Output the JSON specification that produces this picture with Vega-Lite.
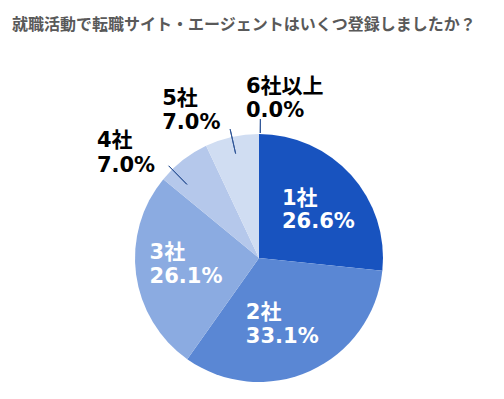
{
  "$schema": "https://vega.github.io/schema/vega-lite/v6.json",
  "width": 490,
  "height": 278,
  "autosize": {"type": "none"},
  "padding": {"left": 14, "top": 119, "right": 0, "bottom": 2},
  "background": "white",
  "title": {
    "text": "就職活動で転職サイト・エージェントはいくつ登録しましたか？",
    "anchor": "start",
    "frame": "group",
    "font": "Noto Sans CJK JP",
    "fontSize": 16,
    "fontWeight": "bold",
    "color": "#595959",
    "baseline": "alphabetic",
    "offset": 30,
    "dx": -2
  },
  "config": {"view": {"stroke": null}},
  "data": {
    "values": [
      {"name": "1社", "pct": 26.6, "order": 1},
      {"name": "2社", "pct": 33.1, "order": 2},
      {"name": "3社", "pct": 26.1, "order": 3},
      {"name": "4社", "pct": 7.0, "order": 4},
      {"name": "5社", "pct": 7.0, "order": 5},
      {"name": "6社以上", "pct": 0.0, "order": 6}
    ]
  },
  "transform": [
    {"joinaggregate": [{"op": "sum", "field": "pct", "as": "total"}]},
    {"window": [{"op": "sum", "field": "pct", "as": "cum"}], "sort": [{"field": "order", "order": "ascending"}], "frame": [null, 0]},
    {"calculate": "(datum.cum - datum.pct) / datum.total", "as": "start"},
    {"calculate": "datum.cum / datum.total", "as": "end"},
    {"calculate": "(datum.start + datum.end) / 2", "as": "mid"},
    {"calculate": "datum.name + '\\n' + format(datum.pct, '.1f') + '%'", "as": "label"}
  ],
  "layer": [
    {
      "mark": {"type": "arc", "outerRadius": 124},
      "encoding": {
        "theta": {"field": "start", "type": "quantitative", "scale": {"domain": [0, 1]}},
        "theta2": {"field": "end"},
        "color": {
          "field": "name", "type": "nominal", "legend": null,
          "scale": {"domain": ["1社", "2社", "3社", "4社", "5社", "6社以上"],
                    "range": ["#1853bf", "#5a87d4", "#8babe1", "#b5c8eb", "#d0ddf2", "#e6edf8"]}
        }
      }
    },
    {
      "transform": [{"filter": "datum.name == '4社'"}],
      "mark": {"type": "arc", "filled": false, "stroke": "#2f5597", "strokeWidth": 1, "radius": 129, "radius2": 103, "thetaOffset": -0.114, "theta2Offset": -0.114},
      "encoding": {"theta": {"field": "mid", "type": "quantitative", "scale": {"domain": [0, 1]}}, "theta2": {"field": "mid"}}
    },
    {
      "transform": [{"filter": "datum.name == '5社'"}],
      "mark": {"type": "arc", "filled": false, "stroke": "#2f5597", "strokeWidth": 1, "radius": 132, "radius2": 107},
      "encoding": {"theta": {"field": "mid", "type": "quantitative", "scale": {"domain": [0, 1]}}, "theta2": {"field": "mid"}}
    },
    {
      "transform": [{"filter": "datum.name == '6社以上'"}],
      "mark": {"type": "arc", "filled": false, "stroke": "#2f5597", "strokeWidth": 1, "radius": 139, "radius2": 125, "thetaOffset": 0.01, "theta2Offset": 0.01},
      "encoding": {"theta": {"field": "mid", "type": "quantitative", "scale": {"domain": [0, 1]}}, "theta2": {"field": "mid"}}
    },
    {
      "transform": [{"filter": "datum.name == '1社'"}],
      "mark": {"type": "text", "radius": 70, "align": "left", "baseline": "middle", "dx": -29, "dy": -12, "lineBreak": "\n", "lineHeight": 23, "font": "DejaVu Sans, Noto Sans CJK JP", "fontSize": 21, "fontWeight": "bold", "color": "white"},
      "encoding": {"theta": {"field": "mid", "type": "quantitative", "scale": {"domain": [0, 1]}}, "text": {"field": "label"}}
    },
    {
      "transform": [{"filter": "datum.name == '2社'"}],
      "mark": {"type": "text", "radius": 70, "align": "left", "baseline": "middle", "dx": -42, "dy": -9, "lineBreak": "\n", "lineHeight": 24, "font": "DejaVu Sans, Noto Sans CJK JP", "fontSize": 21, "fontWeight": "bold", "color": "white"},
      "encoding": {"theta": {"field": "mid", "type": "quantitative", "scale": {"domain": [0, 1]}}, "text": {"field": "label"}}
    },
    {
      "transform": [{"filter": "datum.name == '3社'"}],
      "mark": {"type": "text", "radius": 70, "align": "left", "baseline": "middle", "dx": -40, "dy": -14, "lineBreak": "\n", "lineHeight": 24, "font": "DejaVu Sans, Noto Sans CJK JP", "fontSize": 21, "fontWeight": "bold", "color": "white"},
      "encoding": {"theta": {"field": "mid", "type": "quantitative", "scale": {"domain": [0, 1]}}, "text": {"field": "label"}}
    },
    {
      "transform": [{"filter": "datum.name == '4社'"}],
      "mark": {"type": "text", "radius": 150, "align": "left", "baseline": "middle", "dx": -70, "dy": 1, "lineBreak": "\n", "lineHeight": 25, "font": "DejaVu Sans, Noto Sans CJK JP", "fontSize": 21, "fontWeight": "bold", "color": "#000000"},
      "encoding": {"theta": {"field": "mid", "type": "quantitative", "scale": {"domain": [0, 1]}}, "text": {"field": "label"}}
    },
    {
      "transform": [{"filter": "datum.name == '5社'"}],
      "mark": {"type": "text", "radius": 150, "align": "left", "baseline": "middle", "dx": -64, "dy": -13, "lineBreak": "\n", "lineHeight": 24, "font": "DejaVu Sans, Noto Sans CJK JP", "fontSize": 21, "fontWeight": "bold", "color": "#000000"},
      "encoding": {"theta": {"field": "mid", "type": "quantitative", "scale": {"domain": [0, 1]}}, "text": {"field": "label"}}
    },
    {
      "transform": [{"filter": "datum.name == '6社以上'"}],
      "mark": {"type": "text", "radius": 150, "align": "left", "baseline": "middle", "dx": -13, "dy": -21, "lineBreak": "\n", "lineHeight": 24, "font": "DejaVu Sans, Noto Sans CJK JP", "fontSize": 21, "fontWeight": "bold", "color": "#000000"},
      "encoding": {"theta": {"field": "mid", "type": "quantitative", "scale": {"domain": [0, 1]}}, "text": {"field": "label"}}
    }
  ]
}
